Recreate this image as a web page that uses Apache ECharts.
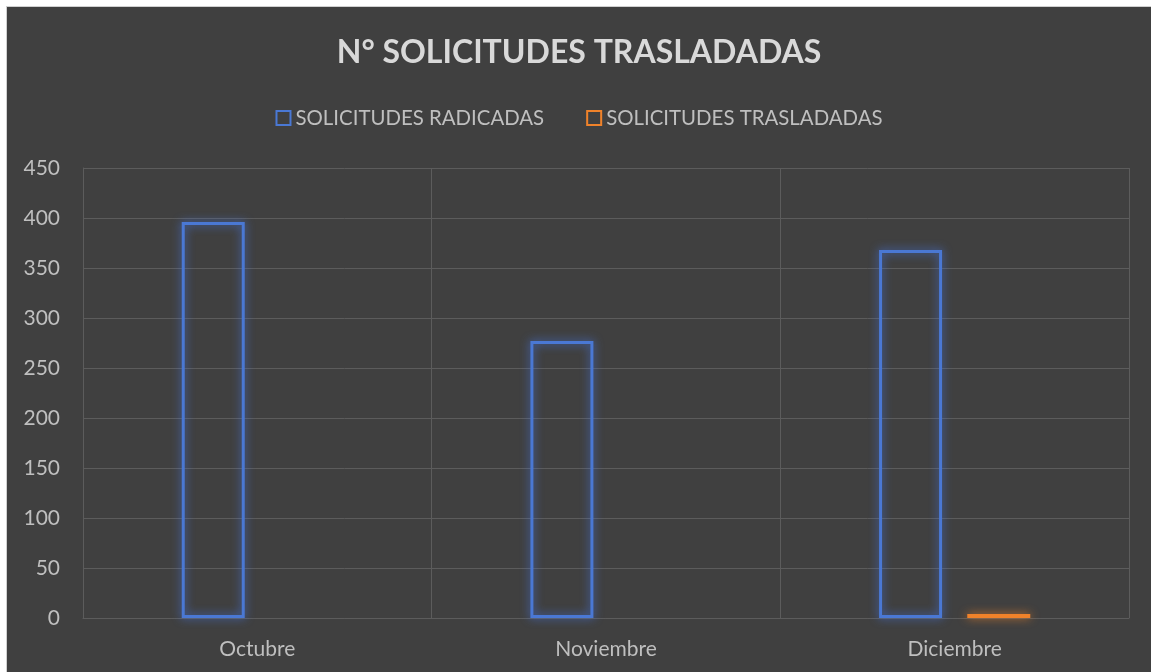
<!DOCTYPE html>
<html><head><meta charset="utf-8">
<script src="https://cdn.jsdelivr.net/npm/echarts@6/dist/echarts.min.js"></script>
<style>
html,body{margin:0;padding:0;background:#fff;width:1151px;height:672px;overflow:hidden}
#frame{position:absolute;left:6px;top:6px;width:1145px;height:666px;border-left:1px solid #d0d0d0;border-top:1px solid #d0d0d0;box-sizing:border-box}
#c{position:absolute;left:7px;top:7px;width:1144px;height:665px}
</style></head>
<body><div id="frame"></div><div id="c"></div>
<script>
const categories = ['Octubre', 'Noviembre', 'Diciembre'];
const radicadas = [396, 277, 368];
const trasladadas = [null, null, 4];
const yTicks = { min: 0, max: 450, interval: 50 };
const titleText = 'N° SOLICITUDES TRASLADADAS';
const seriesNames = ['SOLICITUDES RADICADAS', 'SOLICITUDES TRASLADADAS'];

const font = 'Lato, "Open Sans", sans-serif';
const chart = echarts.init(document.getElementById('c'));
const blue = '#4a78d4', orange = '#f0822a';
chart.setOption({
  backgroundColor: '#404040',
  animation: false,
  title: { text: titleText, left: 'center', top: 25,
    textStyle: { color: '#d9d9d9', fontSize: 32, fontWeight: 'bold', fontFamily: font } },
  legend: { top: 96, left: 'center', itemWidth: 14, itemHeight: 14, itemGap: 42,
    textStyle: { color: '#bfbfbf', fontSize: 20.4, fontFamily: font },
    data: seriesNames.map((n, i) => ({ name: n, icon: 'rect',
      itemStyle: { color: 'transparent', borderColor: i ? orange : blue, borderWidth: 2 } })) },
  grid: { left: 76, right: 22, top: 161, bottom: 54 },
  xAxis: { type: 'category', data: categories,
    axisLine: { show: true, lineStyle: { color: '#5c5c5c' } }, axisTick: { show: false },
    splitLine: { show: true, lineStyle: { color: '#5c5c5c', width: 1 } },
    axisLabel: { color: '#bfbfbf', fontSize: 21, fontFamily: font, margin: 21 } },
  yAxis: { type: 'value', min: yTicks.min, max: yTicks.max, interval: yTicks.interval,
    axisLine: { show: true, lineStyle: { color: '#5c5c5c' } },
    splitLine: { lineStyle: { color: '#5c5c5c' } },
    axisLabel: { color: '#bfbfbf', fontSize: 21, fontFamily: font, margin: 23 } },
  series: [
    { name: seriesNames[0], type: 'bar', data: radicadas, barWidth: 63, barGap: '40%',
      itemStyle: { color: 'transparent', borderColor: blue, borderWidth: 3,
        shadowBlur: 10, shadowColor: 'rgba(70,120,235,0.9)' } },
    { name: seriesNames[1], type: 'bar', data: trasladadas, barWidth: 63,
      itemStyle: { color: 'transparent', borderColor: orange, borderWidth: 3,
        shadowBlur: 10, shadowColor: 'rgba(240,130,40,0.9)' } }
  ]
});
</script></body></html>
